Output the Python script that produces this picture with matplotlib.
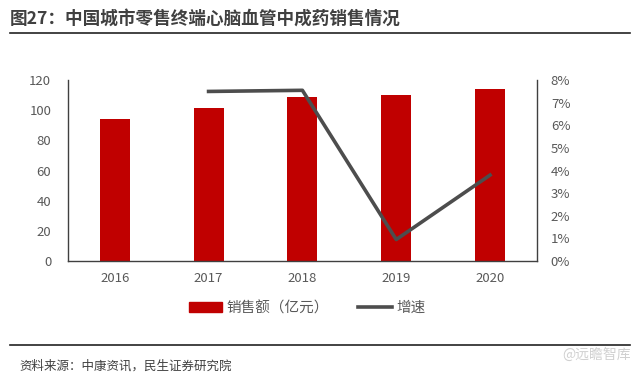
import matplotlib
matplotlib.use('Agg')
import matplotlib.pyplot as plt
from matplotlib.lines import Line2D
from matplotlib.patches import Patch

plt.rcParams['font.family'] = ['Noto Sans CJK SC', 'DejaVu Sans']

years = ['2016', '2017', '2018', '2019', '2020']
sales = [94.2, 101.4, 108.8, 110.0, 114.0]
growth_years = ['2017', '2018', '2019', '2020']
growth = [7.5, 7.55, 0.95, 3.8]

fig = plt.figure(figsize=(6.4, 3.78), dpi=100)
ax = fig.add_axes([0.106, 0.3095, 0.733, 0.4785])
ax2 = ax.twinx()

x = list(range(len(years)))
ax.bar(x, sales, width=0.32, color='#c00000', zorder=2)
gx = [years.index(y) for y in growth_years]
ax2.plot(gx, growth, color='#4d4d4d', linewidth=2.6, zorder=3)

ax.set_xlim(-0.5, len(years) - 0.5)
ax.set_ylim(0, 120)
ax.set_yticks(range(0, 121, 20))
ax2.set_ylim(0, 8)
ax2.set_yticks(range(0, 9))
ax2.set_yticklabels([f'{v}%' for v in range(0, 9)])
ax.set_xticks(x)
ax.set_xticklabels(years)

for a in (ax, ax2):
    a.tick_params(length=0, labelsize=9.5, colors='#595959')
    a.spines['top'].set_visible(False)
ax.tick_params(axis='y', pad=12)
ax.tick_params(axis='x', pad=8)
ax2.tick_params(axis='y', pad=10)
ax.spines['right'].set_visible(False)
ax2.spines['left'].set_visible(False)
ax2.spines['bottom'].set_visible(False)
for a, s in ((ax, 'left'), (ax, 'bottom'), (ax2, 'right')):
    a.spines[s].set_color('#404040')
    a.spines[s].set_linewidth(1.0)

handles = [Patch(color='#c00000'), Line2D([0], [0], color='#4d4d4d', linewidth=2.6)]
fig.legend(handles, ['销售额（亿元）', '增速'], loc='center', bbox_to_anchor=(0.48, 0.185),
           ncol=2, frameon=False, fontsize=10.5, handlelength=2.3, handletextpad=0.3,
           columnspacing=2.0, labelcolor='#595959')

fig.text(0.015, 0.952, '图27：中国城市零售终端心脑血管中成药销售情况', fontsize=12.7,
         fontweight='bold', color='#404040', va='center')
fig.add_artist(Line2D([0.015, 0.985], [0.913, 0.913], color='#222222', linewidth=1.2))
fig.add_artist(Line2D([0.015, 0.985], [0.087, 0.087], color='#222222', linewidth=1.2))
fig.text(0.03, 0.032, '资料来源：中康资讯，民生证券研究院', fontsize=9, color='#404040', va='center')
fig.text(0.985, 0.062, '@远瞻智库', fontsize=10, color='#d0d0d0', ha='right', va='center')

fig.savefig('out.png', dpi=100)
